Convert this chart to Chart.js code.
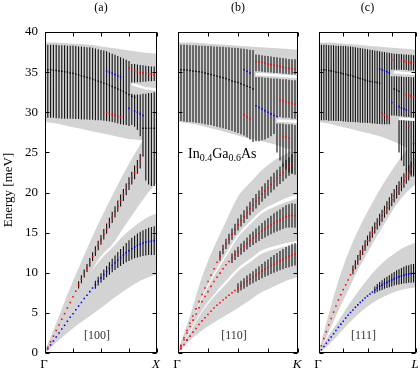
<!DOCTYPE html>
<html>
<head>
<meta charset="utf-8">
<script src="https://cdn.jsdelivr.net/npm/chart.js@4.4.0/dist/chart.umd.min.js"></script>
<style>
  html, body { margin: 0; padding: 0; background: #fff; }
  #wrap { position: relative; width: 420px; height: 369px; }
  #wrap canvas { position: absolute; left: 0; top: 0; }
</style>
</head>
<body>
<div id="wrap">
  <canvas id="panelA" width="420" height="369"></canvas>
  <canvas id="panelB" width="420" height="369"></canvas>
  <canvas id="panelC" width="420" height="369"></canvas>
</div>
<script>
// Phonon spectral functions of In0.4Ga0.6As along [100], [110], [111]
const _ = null;

// Reduced wave vector (0 = Gamma, 1 = zone edge) of every sampled point
const qGrid = [
  0, 0.025, 0.05, 0.075, 0.1, 0.125, 0.15, 0.175, 0.2, 0.225,
  0.25, 0.275, 0.3, 0.325, 0.35, 0.375, 0.4, 0.425, 0.45, 0.475,
  0.5, 0.525, 0.55, 0.575, 0.6, 0.625, 0.65, 0.675, 0.7, 0.725,
  0.75, 0.775, 0.8, 0.825, 0.85, 0.875, 0.9, 0.925, 0.95, 0.975,
  1
];
// coarser grid for the grey broadening bands
const qBand = [0, 0.1, 0.2, 0.3, 0.4, 0.5, 0.6, 0.7, 0.8, 0.9, 1];

const yTicks = [0, 5, 10, 15, 20, 25, 30, 35, 40];
const yTickLabels = ['0', '5', '10', '15', '20', '25', '30', '35', '40'];
const xTicks = [0, 0.25, 0.5, 0.75, 1];
const panelTitles = ['(a)', '(b)', '(c)'];
const panelDirs = ['[100]', '[110]', '[111]'];
const panelEnds = ['X', 'K', 'L'];

// ---------- panel (a) [100] ----------
const aLA = [
  0, 0.7, 1.4, 2.1, 2.8, 3.5, 4.2, 4.9, 5.6, 6.3,
  7.0, 7.7, 8.5, 9.2, 9.9, 10.6, 11.3, 12.0, 12.7, 13.4,
  14.1, 14.8, 15.5, 16.2, 16.9, 17.6, 18.3, 19.0, 19.7, 20.4,
  21.1, 21.8, 22.5, 23.2, 23.9, 24.6, _, _, _, _,
  _
];
const aTA = [
  0, 0.5, 1.0, 1.5, 2.0, 2.5, 3.0, 3.45, 3.95, 4.45,
  4.9, 5.4, 5.85, 6.3, 6.8, 7.2, 7.65, 8.1, 8.5, 8.95,
  9.35, 9.75, 10.15, 10.55, 10.9, 11.25, 11.6, 11.9, 12.2, 12.5,
  12.75, 13.0, 13.2, 13.4, 13.55, 13.7, 13.8, 13.9, 13.95, 14.0,
  14.0
];
const aLO = [
  35.3, 35.3, 35.3, 35.25, 35.2, 35.15, 35.1, 35.05, 35.0, 34.9,
  34.85, 34.75, 34.65, 34.55, 34.45, 34.35, 34.25, 34.1, 34.0, 33.85,
  33.75, 33.6, 33.5, 33.35, 33.2, 33.05, 32.9, 32.75, 32.6, 32.4,
  32.2, 32.0, 31.85, _, _, 28.0, 28.0, 28.0, 28.0, 28.0,
  28.0
];
const aRedOpt = [
  _, _, _, _, _, _, _, _, _, _,
  _, _, _, _, _, _, _, _, _, _,
  _, _, 29.95, 29.85, 29.7, 29.6, 29.5, 29.4, _, _,
  35.5, _, 35.1, 35.0, 34.95, 34.9, 34.85, 34.8, 34.75, 34.7,
  34.7
];
const aBlueOpt = [
  _, _, _, _, _, _, _, _, _, _,
  _, _, _, _, _, _, _, _, _, _,
  _, _, 35.15, 35.0, 34.85, 34.7, 34.55, 34.4, _, _,
  30.5, _, 30.15, 30.0, 29.8, 29.6, _, _, _, _,
  _
];
const aLAerr = [
  _, _, _, _, _, _, _, _, _, _,
  _, _, 0.45, 0.5, 0.5, 0.5, 0.55, 0.55, 0.6, 0.6,
  0.6, 0.65, 0.65, 0.65, 0.7, 0.7, 0.7, 0.75, 0.75, 0.75,
  0.8, 0.8, 0.85, 0.85, 0.9, _, _, _, _, _,
  _
];
const aTAerr = [
  _, _, _, _, _, _, _, _, _, _,
  _, _, _, _, _, _, _, _, 0.5, 0.55,
  0.6, 0.65, 0.7, 0.8, 0.85, 0.9, 1.0, 1.05, 1.1, 1.2,
  1.3, 1.35, 1.4, 1.5, 1.55, 1.6, 1.65, 1.7, 1.75, 1.8,
  1.8
];
const aOptLo = [
  29.3, 29.3, 29.3, 29.3, 29.25, 29.25, 29.2, 29.2, 29.2, 29.2,
  29.2, 29.15, 29.15, 29.1, 29.1, 29.1, 29.05, 29.05, 29.0, 29.0,
  29.0, 28.95, 28.9, 28.85, 28.8, 28.7, 28.6, 28.5, 28.45, 28.4,
  28.3, 33.7, 33.7, 33.75, 33.75, 33.8, 33.8, 33.85, 33.85, 33.9,
  33.9
];
const aOptHi = [
  38.4, 38.4, 38.4, 38.4, 38.4, 38.35, 38.35, 38.35, 38.3, 38.3,
  38.3, 38.25, 38.2, 38.2, 38.15, 38.1, 38.1, 38.05, 37.95, 37.85,
  37.75, 37.7, 37.6, 37.45, 37.3, 37.15, 37.0, 36.85, 36.7, 36.55,
  36.4, 36.0, 36.0, 35.95, 35.9, 35.85, 35.8, 35.75, 35.7, 35.7,
  35.7
];
const aOpt2Lo = [
  _, _, _, _, _, _, _, _, _, _,
  _, _, _, _, _, _, _, _, _, _,
  _, _, _, _, _, _, _, _, _, _,
  _, 28.4, 28.2, 27.8, 27.0, 24.5, 21.5, 21.0, 20.8, 20.8,
  20.8
];
const aOpt2Hi = [
  _, _, _, _, _, _, _, _, _, _,
  _, _, _, _, _, _, _, _, _, _,
  _, _, _, _, _, _, _, _, _, _,
  _, 32.3, 32.2, 32.2, 32.2, 32.3, 32.3, 32.4, 32.4, 32.5,
  32.5
];
const aGap = [
  _, _, _, _, _, _, _, _, _, _,
  _, _, _, _, _, _, _, _, _, _,
  _, _, _, _, _, _, _, _, _, _,
  _, 33.5, 33.4, 33.3, 33.2, 33.1, 33.0, 32.95, 32.9, 32.85,
  32.8
];
const aTopBandLo = [28.8, 28.6, 28.3, 28.0, 27.7, 27.4, 27.1, 26.8, 26.6, 26.5, 26.4];
const aTopBandHi = [38.7, 38.7, 38.6, 38.5, 38.4, 38.2, 38.0, 37.8, 37.6, 37.4, 37.3];
const aLABandLo = [0, 2.0, 4.3, 6.9, 9.8, 12.1, 13.5, 15.6, 17.6, 19.6, 21.3];
const aLABandHi = [0.3, 3.7, 7.3, 10.6, 13.8, 16.8, 19.6, 22.3, 24.8, 27.0, 28.5];
const aTABandLo = [0, 1.3, 2.5, 3.6, 4.6, 5.6, 6.7, 7.7, 8.6, 9.3, 9.8];
const aTABandHi = [0.2, 2.8, 5.6, 8.0, 9.9, 11.7, 13.1, 14.6, 15.8, 16.8, 17.4];

// ---------- panel (b) [110] ----------
const bLA = [
  0, 0.95, 1.9, 2.8, 3.7, 4.6, 5.5, 6.4, 7.3, 8.1,
  8.9, 9.7, 10.5, 11.3, 12.1, 12.9, 13.6, 14.2, 14.8, 15.4,
  16.0, 16.5, 17.0, 17.5, 18.0, 18.45, 18.9, 19.35, 19.8, 20.2,
  20.6, 21.0, 21.4, 21.8, 22.15, 22.5, 22.9, 23.25, 23.6, _,
  _
];
const bTA2 = [
  0, 0.8, 1.65, 2.5, 3.3, 4.1, 4.85, 5.65, 6.4, 7.05,
  7.65, 8.3, 8.9, 9.45, 9.95, 10.5, 11.0, 11.4, 11.8, 12.2,
  12.6, 12.95, 13.3, 13.65, 14.0, 14.3, 14.6, 14.9, 15.2, 15.45,
  15.7, 15.95, 16.2, 16.4, 16.6, 16.8, 17.0, 17.1, 17.15, 17.1,
  17.05
];
const bTA1 = [
  0, 0.55, 1.05, 1.6, 2.1, 2.6, 3.05, 3.55, 4.0, 4.4,
  4.8, 5.2, 5.6, 5.95, 6.25, 6.6, 6.9, 7.2, 7.5, 7.8,
  8.1, 8.4, 8.65, 8.95, 9.2, 9.45, 9.7, 9.95, 10.2, 10.45,
  10.65, 10.9, 11.1, 11.3, 11.5, 11.7, 11.9, 12.05, 12.2, 12.3,
  12.4
];
const bLO = [
  35.3, 35.3, 35.3, 35.25, 35.2, 35.15, 35.1, 35.05, 35.0, 34.9,
  34.8, 34.7, 34.6, 34.5, 34.4, 34.3, 34.2, 34.05, 33.9, 33.8,
  33.7, 33.55, 33.4, 33.25, 33.1, 32.9, _, _, _, _,
  _, _, _, _, _, _, _, _, _, _,
  _
];
const bRedOpt = [
  _, _, _, _, _, _, _, _, _, _,
  _, _, _, _, _, _, _, _, _, _,
  _, _, 29.7, 29.45, 29.2, _, 36.3, 36.25, 36.2, 36.1,
  36.0, 35.95, 35.9, 35.8, 35.7, 35.6, 35.55, 35.5, 35.4, 35.35,
  35.3
];
const bRedOpt2 = [
  _, _, _, _, _, _, _, _, _, _,
  _, _, _, _, _, _, _, _, _, _,
  _, _, _, _, _, _, _, _, _, _,
  _, _, _, _, 31.5, 31.4, 31.3, 31.2, 31.1, 31.0,
  30.95
];
const bRedOpt3 = [
  _, _, _, _, _, _, _, _, _, _,
  _, _, _, _, _, _, _, _, _, _,
  _, _, _, _, _, _, _, _, _, _,
  _, _, _, _, _, 27.0, 26.9, 26.8, _, _,
  _
];
const bBlueOpt = [
  _, _, _, _, _, _, _, _, _, _,
  _, _, _, _, _, _, _, _, _, _,
  _, _, 35.3, 35.1, 34.9, _, 30.8, 30.6, 30.4, 30.2,
  30.0, 29.8, 29.6, 29.45, _, _, _, _, _, _,
  25.2
];
const bBlueLow = [
  _, 0.55, _, 1.6, _, _, _, _, _, _,
  _, _, _, _, _, _, _, _, _, _,
  _, _, _, _, _, _, _, _, _, _,
  _, _, _, _, _, _, _, _, _, _,
  15.0
];
const bLAerr = [
  _, _, _, _, _, _, _, _, _, _,
  _, _, _, _, 0.6, 0.6, 0.65, 0.65, 0.7, 0.7,
  0.75, 0.75, 0.8, 0.8, 0.85, 0.85, 0.9, 0.9, 0.95, 0.95,
  1.0, 1.0, 1.05, 1.05, 1.1, 1.1, 1.15, 1.15, 1.2, _,
  _
];
const bTA2err = [
  _, _, _, _, _, _, _, _, _, _,
  _, _, _, _, _, _, _, _, 0.6, 0.6,
  0.65, 0.7, 0.7, 0.75, 0.8, 0.85, 0.9, 0.95, 1.0, 1.05,
  1.1, 1.15, 1.2, 1.25, 1.3, 1.35, 1.4, 1.45, 1.5, 1.5,
  1.5
];
const bTA1err = [
  _, _, _, _, _, _, _, _, _, _,
  _, _, _, _, _, _, _, _, _, _,
  0.6, 0.6, 0.65, 0.7, 0.7, 0.75, 0.8, 0.85, 0.9, 0.95,
  1.0, 1.05, 1.1, 1.15, 1.2, 1.25, 1.3, 1.35, 1.4, 1.4,
  1.4
];
const bOptLo = [
  28.9, 28.9, 28.85, 28.8, 28.8, 28.75, 28.7, 28.65, 28.6, 28.5,
  28.45, 28.4, 28.3, 28.2, 28.1, 28.0, 27.9, 27.8, 27.7, 27.55,
  27.4, 27.25, 27.1, 26.9, 26.6, 26.3, 35.1, 35.1, 35.05, 35.0,
  35.0, 34.95, 34.9, 34.9, 34.85, 34.8, 34.8, 34.75, 34.7, 34.7,
  34.7
];
const bOptHi = [
  38.4, 38.4, 38.4, 38.4, 38.35, 38.35, 38.35, 38.3, 38.3, 38.3,
  38.25, 38.25, 38.2, 38.2, 38.15, 38.15, 38.1, 38.1, 38.05, 38.05,
  38.0, 37.95, 37.9, 37.85, 37.8, 37.75, 37.2, 37.15, 37.1, 37.05,
  37.0, 36.95, 36.9, 36.85, 36.8, 36.75, 36.7, 36.65, 36.6, 36.6,
  36.6
];
const bOpt2Lo = [
  _, _, _, _, _, _, _, _, _, _,
  _, _, _, _, _, _, _, _, _, _,
  _, _, _, _, _, _, 26.4, 26.4, 26.5, 26.6,
  26.8, 27.0, 27.3, 29.4, 29.4, 29.3, 29.3, 29.3, 29.2, 29.2,
  29.2
];
const bOpt2Hi = [
  _, _, _, _, _, _, _, _, _, _,
  _, _, _, _, _, _, _, _, _, _,
  _, _, _, _, _, _, 34.4, 34.4, 34.35, 34.3,
  34.3, 34.25, 34.2, 34.2, 34.15, 34.1, 34.1, 34.05, 34.0, 34.0,
  34.0
];
const bOpt3Lo = [
  _, _, _, _, _, _, _, _, _, _,
  _, _, _, _, _, _, _, _, _, _,
  _, _, _, _, _, _, _, _, _, _,
  _, _, _, 25.0, 24.0, 23.2, 22.8, 22.5, 22.3, 22.2,
  22.2
];
const bOpt3Hi = [
  _, _, _, _, _, _, _, _, _, _,
  _, _, _, _, _, _, _, _, _, _,
  _, _, _, _, _, _, _, _, _, _,
  _, _, _, 28.6, 28.6, 28.6, 28.5, 28.5, 28.5, 28.4,
  28.4
];
const bGap1 = [
  _, _, _, _, _, _, _, _, _, _,
  _, _, _, _, _, _, _, _, _, _,
  _, _, _, _, _, _, 34.75, 34.75, 34.7, 34.7,
  34.65, 34.65, 34.6, 34.6, 34.55, 34.55, 34.5, 34.5, 34.45, 34.45,
  34.4
];
const bGap2 = [
  _, _, _, _, _, _, _, _, _, _,
  _, _, _, _, _, _, _, _, _, _,
  _, _, _, _, _, _, _, _, _, _,
  _, _, _, 28.95, 28.95, 28.9, 28.9, 28.9, 28.85, 28.85,
  28.85
];
const bTopBandLo = [28.8, 28.6, 28.3, 27.9, 27.5, 27.1, 26.7, 26.4, 26.0, 25.5, 25.0];
const bTopBandHi = [38.7, 38.7, 38.6, 38.5, 38.4, 38.3, 38.2, 38.1, 38.0, 37.9, 37.8];
const bLABandLo = [0, 3.4, 7.0, 9.9, 12.4, 14.8, 16.4, 17.8, 18.6, 19.3, 19.8];
const bLABandHi = [0.3, 4.6, 9.5, 13.2, 16.4, 19.5, 21.2, 22.8, 24.0, 24.8, 26.0];
const bTA2BandLo = [0, 2.8, 5.3, 7.3, 9.0, 10.6, 11.7, 12.8, 13.3, 13.7, 14.0];
const bTA2BandHi = [0.25, 3.3, 6.8, 9.6, 12.0, 14.4, 16.0, 17.4, 18.2, 18.8, 19.3];
const bTA1BandLo = [0, 1.6, 2.8, 3.8, 4.7, 5.6, 6.6, 7.6, 8.3, 9.0, 9.5];
const bTA1BandHi = [0.2, 2.6, 5.1, 7.0, 8.6, 10.2, 11.3, 12.4, 12.9, 13.3, 13.6];

// ---------- panel (c) [111] ----------
const cLA = [
  0, 0.9, 1.8, 2.65, 3.5, 4.3, 5.1, 5.85, 6.6, 7.25,
  7.9, 8.5, 9.1, 9.75, 10.35, 11.0, 11.6, 12.2, 12.8, 13.4,
  14.0, 14.5, 15.05, 15.6, 16.1, 16.6, 17.1, 17.6, 18.1, 18.6,
  19.1, 19.6, 20.1, 20.55, 21.05, 21.5, 22.0, 22.45, 22.9, 23.35,
  23.8
];
const cTA = [
  0, 0.4, 0.8, 1.2, 1.6, 2.0, 2.4, 2.8, 3.2, 3.6,
  3.95, 4.35, 4.7, 5.05, 5.35, 5.7, 6.0, 6.3, 6.55, 6.85,
  7.1, 7.35, 7.6, 7.85, 8.1, 8.3, 8.45, 8.65, 8.8, 8.95,
  9.1, 9.25, 9.4, 9.5, 9.6, 9.7, 9.8, 9.85, 9.9, 9.95,
  9.95
];
const cLO = [
  35.3, 35.3, 35.3, 35.25, 35.2, 35.15, 35.1, 35.0, 34.95, 34.9,
  34.8, 34.75, 34.65, 34.6, 34.5, 34.4, 34.3, 34.2, 34.1, 34.0,
  33.9, 33.85, 33.8, 33.75, 33.7, 33.6, _, _, _, _,
  _, 32.9, 32.75, 32.6, _, _, _, _, _, _,
  _
];
const cRedOpt = [
  _, _, _, _, _, _, _, _, _, _,
  _, _, _, _, _, _, _, _, _, _,
  _, _, _, _, _, _, 29.9, 29.65, 29.45, 29.2,
  36.5, _, _, _, 36.4, 36.35, 36.3, 36.25, 36.2, 36.15,
  36.1
];
const cRedOpt2 = [
  _, _, _, _, _, _, _, _, _, _,
  _, _, _, _, _, _, _, _, _, _,
  _, _, _, _, _, _, _, _, _, _,
  _, _, _, _, _, _, 32.15, 32.1, 32.0, 31.95,
  31.9
];
const cRedOpt3 = [
  _, _, _, _, _, _, _, _, _, _,
  _, _, _, _, _, _, _, _, _, _,
  _, _, _, _, _, _, _, _, _, _,
  _, _, _, _, _, _, _, 28.3, _, _,
  _
];
const cBlueOpt = [
  _, _, _, _, _, _, _, _, _, _,
  _, _, _, _, _, _, _, _, _, _,
  _, _, _, _, _, 35.4, 35.3, 35.2, 35.05, 34.9,
  31.2, _, _, 30.7, 30.55, 30.4, 30.3, _, _, 26.1,
  _
];
const cLAerr = [
  _, _, _, _, _, _, _, _, _, _,
  _, _, _, _, 0.55, 0.55, 0.6, 0.6, 0.6, 0.65,
  0.65, 0.65, 0.7, 0.7, 0.7, 0.75, 0.75, 0.75, 0.8, 0.8,
  0.8, 0.85, 0.85, 0.85, 0.9, 0.9, 0.9, 0.95, 0.95, 0.95,
  1.0
];
const cTAerr = [
  _, _, _, _, _, _, _, _, _, _,
  _, _, _, _, _, _, _, _, _, _,
  _, _, _, 0.45, 0.5, 0.55, 0.6, 0.65, 0.7, 0.75,
  0.8, 0.85, 0.9, 0.95, 1.0, 1.05, 1.1, 1.1, 1.15, 1.15,
  1.2
];
const cOptLo = [
  29.0, 29.0, 29.0, 29.0, 28.95, 28.95, 28.95, 28.9, 28.9, 28.9,
  28.85, 28.85, 28.8, 28.8, 28.8, 28.75, 28.75, 28.7, 28.7, 28.7,
  28.65, 28.65, 28.6, 28.6, 28.55, 28.55, 28.5, 28.5, 28.5, 28.5,
  35.3, 35.3, 35.3, 35.3, 35.3, 35.25, 35.25, 35.2, 35.2, 35.2,
  35.2
];
const cOptHi = [
  38.4, 38.4, 38.4, 38.4, 38.35, 38.35, 38.35, 38.3, 38.3, 38.3,
  38.25, 38.25, 38.2, 38.2, 38.15, 38.1, 38.05, 38.0, 37.95, 37.9,
  37.85, 37.8, 37.75, 37.7, 37.65, 37.6, 37.55, 37.5, 37.45, 37.4,
  37.35, 37.3, 37.3, 37.25, 37.25, 37.2, 37.2, 37.15, 37.15, 37.1,
  37.1
];
const cOpt2Lo = [
  _, _, _, _, _, _, _, _, _, _,
  _, _, _, _, _, _, _, _, _, _,
  _, _, _, _, _, _, _, _, _, _,
  29.6, 29.6, 29.55, 29.5, 29.5, 29.45, 29.4, 29.4, 29.35, 29.3,
  29.3
];
const cOpt2Hi = [
  _, _, _, _, _, _, _, _, _, _,
  _, _, _, _, _, _, _, _, _, _,
  _, _, _, _, _, _, _, _, _, _,
  34.5, 34.5, 34.5, 34.45, 34.45, 34.4, 34.4, 34.4, 34.35, 34.35,
  34.3
];
const cOpt3Lo = [
  _, _, _, _, _, _, _, _, _, _,
  _, _, _, _, _, _, _, _, _, _,
  _, _, _, _, _, _, _, _, _, _,
  _, _, _, 25.0, 24.0, 23.3, 22.8, 22.4, 22.2, 22.0,
  22.0
];
const cOpt3Hi = [
  _, _, _, _, _, _, _, _, _, _,
  _, _, _, _, _, _, _, _, _, _,
  _, _, _, _, _, _, _, _, _, _,
  _, _, _, 29.0, 29.0, 29.0, 28.95, 28.95, 28.9, 28.9,
  28.9
];
const cGap1 = [
  _, _, _, _, _, _, _, _, _, _,
  _, _, _, _, _, _, _, _, _, _,
  _, _, _, _, _, _, _, _, _, _,
  _, 35.0, 35.0, 34.95, 34.9, 34.9, 34.85, 34.85, 34.8, 34.8,
  34.8
];
const cGap2 = [
  _, _, _, _, _, _, _, _, _, _,
  _, _, _, _, _, _, _, _, _, _,
  _, _, _, _, _, _, _, _, _, _,
  _, _, _, 29.2, 29.2, 29.15, 29.15, 29.15, 29.1, 29.1,
  29.1
];
const cTopBandLo = [28.8, 28.6, 28.3, 28.0, 27.7, 27.4, 27.1, 26.7, 26.2, 25.6, 25.0];
const cTopBandHi = [38.7, 38.7, 38.6, 38.5, 38.4, 38.3, 38.2, 38.1, 38.0, 37.9, 37.8];
const cLABandLo = [0, 2.6, 5.3, 7.8, 10.3, 12.5, 14.6, 16.6, 18.5, 20.0, 21.1];
const cLABandHi = [0.3, 4.8, 9.0, 12.4, 15.2, 17.6, 19.8, 21.8, 23.6, 25.3, 27.0];
const cTABandLo = [0, 1.0, 2.3, 3.6, 4.8, 5.8, 6.6, 7.2, 7.7, 8.0, 8.2];
const cTABandHi = [0.2, 2.2, 4.0, 5.9, 7.6, 9.2, 10.6, 11.7, 12.6, 13.3, 13.8];

// ---------- styling ----------
const GREY = '#d3d3d3';
const RED = '#ff0000';
const BLUE = '#0000ff';
const SERIF = '"Liberation Serif", "DejaVu Serif", serif';

// helpers that turn the arrays into Chart.js points
function onGrid(vals) {
  return vals.map((v, i) => ({ x: qGrid[i], y: v }));
}
function onBand(vals) {
  return vals.map((v, i) => ({ x: qBand[i], y: v }));
}
function dotsOf(vals) {
  return onGrid(vals).filter(p => p.y !== null);
}
// vertical bars, one segment per q, separated by gaps
function barsOf(lo, hi) {
  const out = [];
  qGrid.forEach((q, i) => {
    if (lo[i] === null || hi[i] === null) return;
    out.push({ x: q, y: lo[i] }, { x: q, y: hi[i] }, { x: q, y: null });
  });
  return out;
}
function errOf(centre, half) {
  const lo = centre.map((c, i) => (c === null || half[i] === null) ? null : c - half[i]);
  const hi = centre.map((c, i) => (c === null || half[i] === null) ? null : c + half[i]);
  return barsOf(lo, hi);
}

function bandSets(lo, hi) {
  return [
    { type: 'line', data: onBand(lo), borderColor: 'rgba(0,0,0,0)', borderWidth: 0,
      pointRadius: 0, fill: false, cubicInterpolationMode: 'monotone', order: 10 },
    { type: 'line', data: onBand(hi), borderColor: 'rgba(0,0,0,0)', borderWidth: 0,
      pointRadius: 0, fill: '-1', backgroundColor: GREY, cubicInterpolationMode: 'monotone', order: 10 }
  ];
}
function gapSet(vals) {
  return { type: 'line', data: onGrid(vals), borderColor: '#fff', borderWidth: 2.5,
    pointRadius: 0, spanGaps: false, fill: false, order: 8 };
}
function barSet(data) {
  return { type: 'line', data, borderColor: '#111', borderWidth: 1.1,
    pointRadius: 0, spanGaps: false, fill: false, order: 6 };
}
function dotSet(vals, colour, r, order) {
  return { type: 'scatter', data: dotsOf(vals), backgroundColor: colour, borderWidth: 0,
    pointStyle: 'rect', pointRadius: r, order };
}

// axes frame, inward ticks and all the text
const framePlugin = {
  id: 'frame',
  afterDraw(chart, args, opts) {
    const { ctx, chartArea: area, scales } = chart;
    const sx = scales.x, sy = scales.y;
    const L = Math.round(area.left) + 0.5, R = Math.round(area.right) - 0.5;
    const T = Math.round(area.top) + 0.5, B = Math.round(area.bottom) - 0.5;
    const mid = (area.left + area.right) / 2;
    ctx.save();
    ctx.strokeStyle = '#000';
    ctx.lineWidth = 1;
    ctx.strokeRect(L, T, R - L, B - T);
    ctx.beginPath();
    yTicks.forEach(v => {
      const py = Math.round(sy.getPixelForValue(v)) + 0.5;
      ctx.moveTo(L, py); ctx.lineTo(L + 4, py);
      ctx.moveTo(R, py); ctx.lineTo(R - 4, py);
    });
    xTicks.forEach(v => {
      const px = Math.round(sx.getPixelForValue(v)) + 0.5;
      ctx.moveTo(px, T); ctx.lineTo(px, T + 4);
      ctx.moveTo(px, B); ctx.lineTo(px, B - 4);
    });
    ctx.stroke();

    ctx.fillStyle = '#000';
    ctx.textAlign = 'center';
    ctx.textBaseline = 'middle';
    ctx.font = '12px ' + SERIF;
    ctx.fillText(opts.title, mid, 8);

    // Gamma and zone-edge labels
    ctx.textBaseline = 'alphabetic';
    ctx.font = '13px ' + SERIF;
    ctx.fillText('\u0393', sx.getPixelForValue(0) - 1, 368);
    ctx.font = 'italic 13px ' + SERIF;
    ctx.fillText(opts.end, sx.getPixelForValue(1) - 1, 368);

    // direction label
    ctx.fillStyle = '#333';
    ctx.font = '12px ' + SERIF;
    ctx.textBaseline = 'middle';
    ctx.fillText(opts.dir, mid - 4, 336);

    if (opts.showY) {
      ctx.fillStyle = '#000';
      ctx.textAlign = 'right';
      ctx.font = '13px ' + SERIF;
      yTicks.forEach((v, i) => ctx.fillText(yTickLabels[i], 38, sy.getPixelForValue(v)));
      ctx.save();
      ctx.translate(9, 190);
      ctx.rotate(-Math.PI / 2);
      ctx.textAlign = 'center';
      ctx.font = '13px ' + SERIF;
      ctx.fillText('Energy [meV]', 0, 0);
      ctx.restore();
    }

    if (opts.alloy) {
      // In0.4Ga0.6As with subscripts
      const parts = [['In', 0], ['0.4', 1], ['Ga', 0], ['0.6', 1], ['As', 0]];
      let x = 188;
      ctx.fillStyle = '#000';
      ctx.textAlign = 'left';
      ctx.textBaseline = 'alphabetic';
      parts.forEach(([txt, sub]) => {
        ctx.font = (sub ? '10px ' : '14px ') + SERIF;
        ctx.fillText(txt, x, sub ? 161 : 158);
        x += ctx.measureText(txt).width;
      });
    }
    ctx.restore();
  }
};

function panelOptions(left, right, frame) {
  return {
    responsive: false,
    animation: false,
    events: [],
    layout: { padding: { left, right, top: 32, bottom: 16 } },
    plugins: { legend: { display: false }, tooltip: { enabled: false }, frame },
    scales: {
      x: { type: 'linear', min: 0, max: 1, display: false },
      y: { type: 'linear', min: 0, max: 40, display: false }
    }
  };
}

function buildSets(bands, gaps, bars, errs, red, blue, black) {
  const sets = [];
  bands.forEach(b => sets.push(...bandSets(b[0], b[1])));
  gaps.forEach(g => sets.push(gapSet(g)));
  bars.forEach(b => sets.push(barSet(barsOf(b[0], b[1]))));
  errs.forEach(e => sets.push(barSet(errOf(e[0], e[1]))));
  red.forEach(v => sets.push(dotSet(v, RED, 1.1, 3)));
  blue.forEach(v => sets.push(dotSet(v, BLUE, 1.1, 3)));
  black.forEach(v => sets.push(dotSet(v, '#000', 1.0, 2)));
  return sets;
}

new Chart(document.getElementById('panelA'), {
  type: 'scatter',
  data: {
    datasets: buildSets(
      [[aTopBandLo, aTopBandHi], [aLABandLo, aLABandHi], [aTABandLo, aTABandHi]],
      [aGap],
      [[aOptLo, aOptHi], [aOpt2Lo, aOpt2Hi]],
      [[aLA, aLAerr], [aTA, aTAerr]],
      [aLA, aRedOpt],
      [aTA, aBlueOpt],
      [aLO]
    )
  },
  options: panelOptions(45, 263, { title: panelTitles[0], end: panelEnds[0], dir: panelDirs[0], showY: true }),
  plugins: [framePlugin]
});

new Chart(document.getElementById('panelB'), {
  type: 'scatter',
  data: {
    datasets: buildSets(
      [[bTopBandLo, bTopBandHi], [bLABandLo, bLABandHi], [bTA2BandLo, bTA2BandHi], [bTA1BandLo, bTA1BandHi]],
      [bGap1, bGap2],
      [[bOptLo, bOptHi], [bOpt2Lo, bOpt2Hi], [bOpt3Lo, bOpt3Hi]],
      [[bLA, bLAerr], [bTA2, bTA2err], [bTA1, bTA1err]],
      [bLA, bTA2, bTA1, bRedOpt, bRedOpt2, bRedOpt3],
      [bBlueOpt, bBlueLow],
      [bLO]
    )
  },
  options: panelOptions(178, 122, { title: panelTitles[1], end: panelEnds[1], dir: panelDirs[1], showY: false, alloy: true }),
  plugins: [framePlugin]
});

new Chart(document.getElementById('panelC'), {
  type: 'scatter',
  data: {
    datasets: buildSets(
      [[cTopBandLo, cTopBandHi], [cLABandLo, cLABandHi], [cTABandLo, cTABandHi]],
      [cGap1, cGap2],
      [[cOptLo, cOptHi], [cOpt2Lo, cOpt2Hi], [cOpt3Lo, cOpt3Hi]],
      [[cLA, cLAerr], [cTA, cTAerr]],
      [cLA, cRedOpt, cRedOpt2, cRedOpt3],
      [cTA, cBlueOpt],
      [cLO]
    )
  },
  options: panelOptions(319, 4, { title: panelTitles[2], end: panelEnds[2], dir: panelDirs[2], showY: false }),
  plugins: [framePlugin]
});
</script>
</body>
</html>
